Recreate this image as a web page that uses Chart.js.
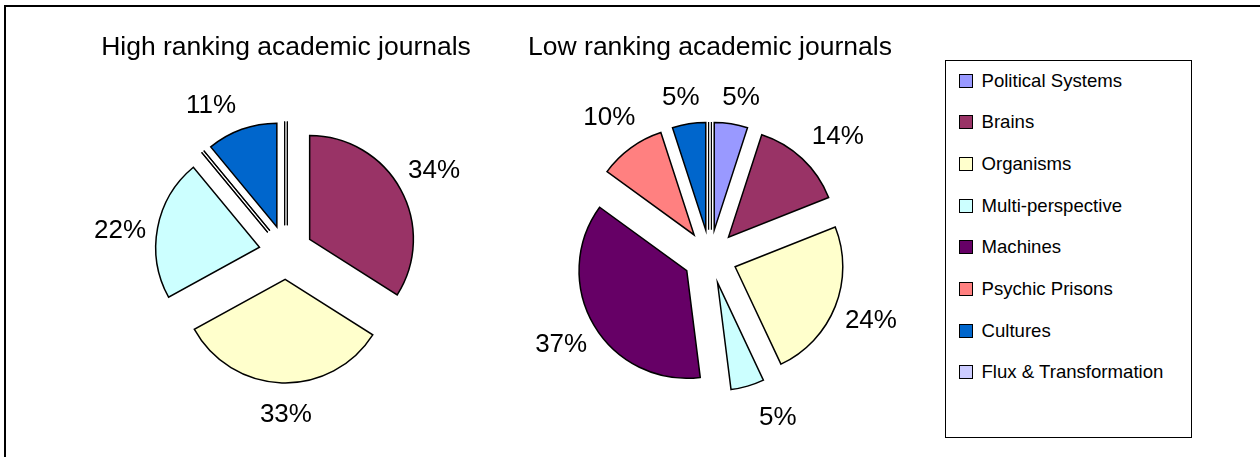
<!DOCTYPE html>
<html>
<head>
<meta charset="utf-8">
<title>Metaphors in academic journals</title>
<script src="https://cdn.jsdelivr.net/npm/chart.js@4.4.1/dist/chart.umd.min.js"></script>
<style>
  html, body { margin: 0; padding: 0; background: #fff; }
  body {
    width: 1260px; height: 457px; position: relative; overflow: hidden;
    font-family: 'Liberation Sans', Arial, sans-serif;
  }
  .frame-top { position: absolute; left: 4px; top: 5px; width: 1256px; height: 2px; background: #000; }
  .frame-left { position: absolute; left: 4px; top: 5px; width: 2px; height: 452px; background: #000; }
  #wrapHigh { position: absolute; left: 0; top: 0; width: 572px; height: 457px; }
  #wrapLow { position: absolute; left: 500px; top: 0; width: 420px; height: 457px; }
  #legend {
    position: absolute; left: 945px; top: 60px; width: 247px; height: 378px;
    box-sizing: border-box; border: 1.5px solid #000; background: #fff;
  }
  .item {
    position: absolute; left: 12.5px; height: 20px;
    display: flex; align-items: center;
    font-size: 18.6px; color: #000; white-space: nowrap;
  }
  .swatch {
    width: 14px; height: 14px; box-sizing: border-box;
    border: 1.5px solid #000; margin-right: 9px;
  }
</style>
</head>
<body>
<div class="frame-top"></div>
<div class="frame-left"></div>
<div id="wrapHigh"><canvas id="highChart"></canvas></div>
<div id="wrapLow"><canvas id="lowChart"></canvas></div>
<div id="legend"></div>

<script>
// --- DATA ---
const categories = ['Political Systems', 'Brains', 'Organisms', 'Multi-perspective',
                    'Machines', 'Psychic Prisons', 'Cultures', 'Flux & Transformation'];
const highRanking = [0, 34, 33, 22, 0, 0, 11, 0];   // % of papers
const lowRanking = [5, 14, 24, 5, 37, 10, 5, 0];
const sliceColors = ['#9999FF', '#993366', '#FFFFCC', '#CCFFFF',
                     '#660066', '#FF8080', '#0066CC', '#CCCCFF'];
const chartTitles = ['High ranking academic journals', 'Low ranking academic journals'];

const FONT = "'Liberation Sans', Arial, sans-serif";

// exploded slices: every arc pushed out along its bisector,
// empty categories still show as a thin sliver
const explodePlugin = {
    id: 'explode',
    beforeDatasetDraw(chart, args, opts) {
        const ctx = chart.ctx;
        const dist = opts.distance || 0;
        args.meta.data.forEach(arc => {
            const mid = (arc.startAngle + arc.endAngle) / 2;
            const c = Math.cos(mid), s = Math.sin(mid);
            ctx.save();
            ctx.translate(c * dist, s * dist);
            if (arc.circumference === 0) {
                ctx.strokeStyle = arc.options.borderColor;
                ctx.lineWidth = 1.2;
                [-1.4, 1.4].forEach(k => {
                    ctx.beginPath();
                    ctx.moveTo(arc.x - s * k, arc.y + c * k);
                    ctx.lineTo(arc.x - s * k + c * arc.outerRadius, arc.y + c * k + s * arc.outerRadius);
                    ctx.stroke();
                });
            } else {
                arc.draw(ctx);
            }
            ctx.restore();
        });
        return false;
    }
};

// percentage labels outside each slice (Excel "best fit" moves a few a bit)
const pctLabelPlugin = {
    id: 'pctLabels',
    afterDatasetsDraw(chart, args, opts) {
        const ctx = chart.ctx;
        const meta = chart.getDatasetMeta(0);
        const values = chart.data.datasets[0].data;
        const nudge = opts.nudge || {};
        ctx.save();
        ctx.font = opts.size + 'px ' + FONT;
        ctx.fillStyle = '#000';
        ctx.textAlign = 'center';
        ctx.textBaseline = 'middle';
        meta.data.forEach((arc, i) => {
            if (!values[i]) return;
            const text = values[i] + '%';
            const mid = (arc.startAngle + arc.endAngle) / 2;
            const c = Math.cos(mid), s = Math.sin(mid);
            const w = ctx.measureText(text).width;
            const reach = Math.abs(c) * w / 2 + Math.abs(s) * opts.boxHeight / 2;
            const r = arc.outerRadius + opts.explode + opts.gap + opts.k * reach;
            const [nx, ny] = nudge[i] || [0, 0];
            ctx.fillText(text, arc.x + c * r + nx, arc.y + s * r + ny);
        });
        ctx.restore();
    }
};

function makePie(canvasId, title, values, pad, nudge) {
    const ctx = document.getElementById(canvasId).getContext('2d');
    return new Chart(ctx, {
        type: 'pie',
        data: {
            labels: categories,
            datasets: [{
                data: values,
                backgroundColor: sliceColors,
                borderColor: '#000',
                borderWidth: 1.5,
                hoverBorderWidth: 1.5,
                borderJoinStyle: 'miter',
                offset: 0,
                hoverOffset: 0
            }]
        },
        options: {
            responsive: true,
            maintainAspectRatio: false,
            animation: false,
            events: [],
            layout: { padding: { top: 32, bottom: pad.bottom, left: 0, right: 0 } },
            plugins: {
                legend: { display: false },
                tooltip: { enabled: false },
                title: {
                    display: true,
                    text: title,
                    color: '#000',
                    font: { family: FONT, size: 26.5, weight: 'normal', lineHeight: 1.2 },
                    padding: { top: 0, bottom: pad.titleGap }
                },
                explode: { distance: 27 },
                pctLabels: { size: 26, boxHeight: 20, explode: 27, gap: 27.5, k: 0.39, nudge: nudge }
            }
        },
        plugins: [explodePlugin, pctLabelPlugin]
    });
}

makePie('highChart', chartTitles[0], highRanking, { bottom: 100.25, titleGap: 84 },
        { 2: [5, 0], 3: [0, 10], 6: [-19, 9] });
makePie('lowChart', chartTitles[1], lowRanking, { bottom: 91.75, titleGap: 84.55 },
        { 0: [5, 6], 1: [10, 5], 3: [21, 0], 6: [-3, 6] });

// --- LEGEND ---
const legendBox = document.getElementById('legend');
categories.forEach((name, i) => {
    const row = document.createElement('div');
    row.className = 'item';
    row.style.top = (9.5 + i * 41.7) + 'px';
    row.innerHTML = `<span class="swatch" style="background:${sliceColors[i]}"></span><span>${name}</span>`;
    legendBox.appendChild(row);
});
</script>
</body>
</html>
